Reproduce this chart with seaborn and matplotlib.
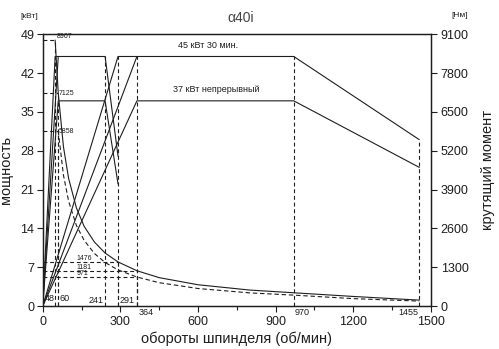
import matplotlib
matplotlib.use("Agg")
import matplotlib.pyplot as plt
import seaborn as sns
import pandas as pd

# ---------------- data ----------------
# power curves (kW) vs spindle speed (rpm)
low30_rpm = [0, 48, 241, 291]
low30_kw = [0, 45, 45, 27]
low30b_rpm = [0, 60]
low30b_kw = [0, 45]
lowc_rpm = [0, 60, 241, 291]
lowc_kw = [0, 37, 37, 22]
high30a_rpm = [0, 291, 364]
high30a_kw = [0, 45, 45]
high30_rpm = [0, 364, 970, 1455]
high30_kw = [0, 45, 45, 30]
highc_rpm = [0, 364, 970, 1455]
highc_kw = [0, 37, 37, 25]

# torque curves (Nm)
t30_rpm = [48, 60, 80, 100, 130, 160, 200, 241, 291, 364, 450, 600, 800, 970, 1200, 1455]
t30_nm = [8907, 7125, 5340, 4275, 3290, 2670, 2140, 1775, 1476, 1181, 950, 712, 534, 443, 320, 197]
tc_rpm = [60, 80, 100, 130, 160, 200, 241, 291, 364, 450, 600, 800, 970, 1200, 1455]
tc_nm = [5858, 4390, 3515, 2700, 2200, 1757, 1458, 1208, 971, 781, 586, 439, 364, 247, 164]

torque_marks = [8907, 7125, 5858]
torque_marks_rpm = [48, 60, 60]
torque_marks2 = [1476, 1181, 971]
torque_marks2_rpm = [291, 364, 364]
speed_marks = [241, 291, 364, 970, 1455]
speed_marks_kw = [45, 45, 45, 45, 30]

xticks = [0, 300, 600, 900, 1200, 1500]
yticks_kw = [0, 7, 14, 21, 28, 35, 42, 49]
yticks_nm = [0, 1300, 2600, 3900, 5200, 6500, 7800, 9100]

# ---------------- figure ----------------
sns.set_theme(style="white")
plt.rcParams['font.family'] = ['Liberation Sans', 'DejaVu Sans']
ink = "#1e1e1e"

fig = plt.figure(figsize=(4.99, 3.49), dpi=100)
ax = fig.add_axes([0.0856, 0.1232, 0.778, 0.7785])
ax2 = ax.twinx()

lw = 0.8
solid = dict(color=ink, linewidth=lw, estimator=None, sort=False, legend=False)
for xs, ys in [(low30_rpm, low30_kw), (low30b_rpm, low30b_kw), (lowc_rpm, lowc_kw),
               (high30a_rpm, high30a_kw), (high30_rpm, high30_kw), (highc_rpm, highc_kw)]:
    sns.lineplot(x=xs, y=ys, ax=ax, **solid)

# torque curves
sns.lineplot(x=t30_rpm, y=t30_nm, ax=ax2, **solid)
sns.lineplot(x=tc_rpm, y=tc_nm, ax=ax2, **solid)
ax2.lines[-1].set_linestyle((0, (4, 2.5)))

dash = (0, (3.5, 2.5))
# torque marks (horizontal + vertical dashed)
for t, n in zip(torque_marks + torque_marks2, torque_marks_rpm + torque_marks2_rpm):
    ax2.plot([0, n], [t, t], color=ink, lw=lw, ls=dash)
    ax2.plot([n, n], [0, t], color=ink, lw=lw, ls=dash)
for n, p in zip(speed_marks, speed_marks_kw):
    ax.plot([n, n], [0, p], color=ink, lw=lw, ls=dash)

ax.set_xlim(0, 1500)
ax.set_ylim(0, 49)
ax2.set_ylim(0, 9100)
ax.set_xticks(xticks)
ax.set_xticks([150, 450, 750, 1050, 1350], minor=True)
ax.set_yticks(yticks_kw)
ax2.set_yticks(yticks_nm)
ax.set_xticklabels([str(v) for v in xticks])
ax.set_yticklabels([str(v) for v in yticks_kw])
ax2.set_yticklabels([str(v) for v in yticks_nm])

for a in (ax, ax2):
    for s in a.spines.values():
        s.set_color(ink)
        s.set_linewidth(0.9)
ax.tick_params(axis='both', which='both', direction='out', length=4, width=0.8,
               colors=ink, labelsize=9, pad=2)
ax.tick_params(axis='x', which='minor', length=3, bottom=True)
ax.tick_params(axis='y', left=True)
ax.tick_params(axis='x', bottom=True, pad=3)
ax2.tick_params(axis='y', direction='out', length=4, width=0.8, colors=ink,
                labelsize=9, pad=3, right=True)

ax.set_xlabel("обороты шпинделя (об/мин)", fontsize=10.5, color=ink, labelpad=3)
ax.set_ylabel("мощность", fontsize=10.5, color=ink, labelpad=5)
ax2.set_ylabel("крутящий момент", fontsize=10.5, color=ink, labelpad=9)

fig.text(0.482, 0.948, "α40i", fontsize=10, color="#444444", ha="center", va="center")
fig.text(0.04, 0.953, "[кВт]", fontsize=6, color=ink, ha="left", va="center")
fig.text(0.905, 0.955, "[Нм]", fontsize=6, color=ink, ha="left", va="center")

small = dict(fontsize=5, color=ink)
ax2.text(55, 8907, "8907", va="bottom", ha="left", **small)
ax2.text(60, 7125, "7125", va="center", ha="left", **small)
ax2.text(62, 5858, "5858", va="center", ha="left", **small)
ax2.text(130, 1476, "1476", va="bottom", ha="left", **small)
ax2.text(130, 1181, "1181", va="bottom", ha="left", **small)
ax2.text(130, 971, "971", va="bottom", ha="left", **small)

sm = dict(fontsize=6.5, color=ink)
ax.text(8, 0.6, "48", ha="left", va="bottom", **sm)
ax.text(66, 0.6, "60", ha="left", va="bottom", **sm)
ax.text(236, 0.2, "241", ha="right", va="bottom", **sm)
ax.text(296, 0.2, "291", ha="left", va="bottom", **sm)
ax.text(370, -0.4, "364", ha="left", va="top", **sm)
ax.text(975, -0.4, "970", ha="left", va="top", **sm)
ax.text(1450, -0.4, "1455", ha="right", va="top", **sm)

ax.text(640, 46.2, "45 кВт 30 мин.", fontsize=6.5, color=ink, ha="center", va="bottom")
ax.text(670, 38.2, "37 кВт непрерывный", fontsize=6.5, color=ink, ha="center", va="bottom")

fig.savefig("out.png", dpi=100)
